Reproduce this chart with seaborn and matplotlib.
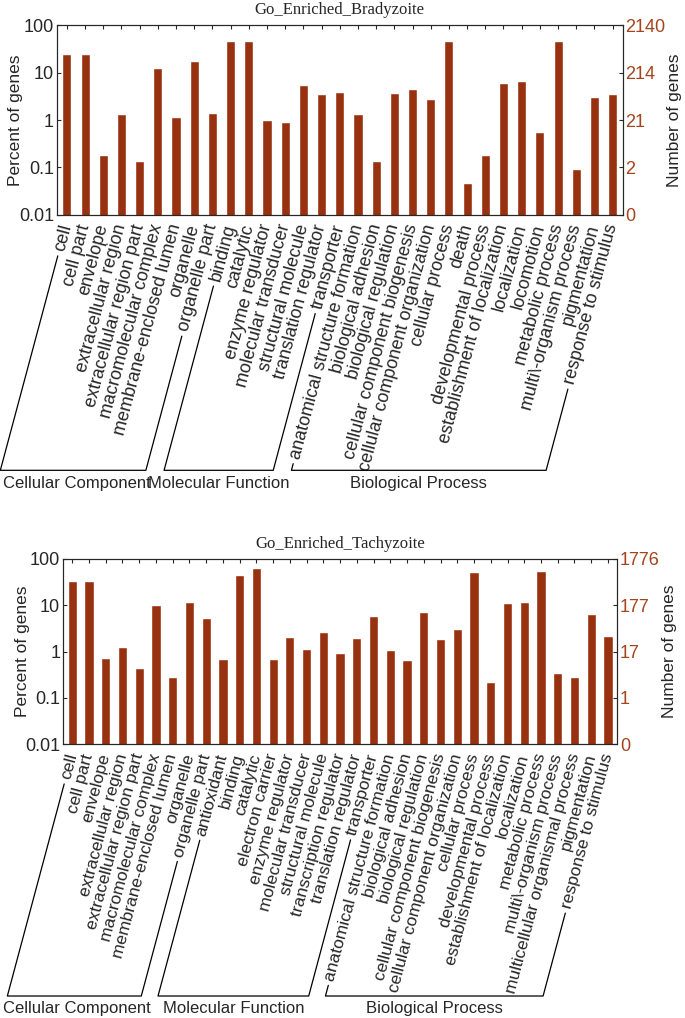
import numpy as np
import pandas as pd
import seaborn as sns
import matplotlib.pyplot as plt
from matplotlib.ticker import NullLocator

# GO terms and percent of genes, Bradyzoite
brady_terms = [
    "cell", "cell part", "envelope", "extracellular region", "extracellular region part",
    "macromolecular complex", "membrane-enclosed lumen", "organelle", "organelle part",
    "binding", "catalytic", "enzyme regulator", "molecular transducer", "structural molecule",
    "translation regulator", "transporter",
    "anatomical structure formation", "biological adhesion", "biological regulation",
    "cellular component biogenesis", "cellular component organization", "cellular process",
    "death", "developmental process", "establishment of localization", "localization",
    "locomotion", "metabolic process", "multi\\-organism process", "pigmentation",
    "response to stimulus",
]
brady_percent = [
    25.5, 25.5, 0.18, 1.34, 0.136, 12.4, 1.16, 17.5, 1.41,
    48, 48, 1.02, 0.92, 5.4, 3.6, 4.0,
    1.38, 0.136, 3.8, 4.6, 2.75, 48, 0.047, 0.186, 6.0, 6.6, 0.56, 46, 0.093, 3.15, 3.55,
]
brady_groups = [9, 7, 15]
brady_gene_ticks = ["2140", "214", "21", "2", "0"]

# GO terms and percent of genes, Tachyzoite
tachy_terms = [
    "cell", "cell part", "envelope", "extracellular region", "extracellular region part",
    "macromolecular complex", "membrane-enclosed lumen", "organelle", "organelle part",
    "antioxidant", "binding", "catalytic", "electron carrier", "enzyme regulator",
    "molecular transducer", "structural molecule", "transcription regulator",
    "translation regulator", "transporter",
    "anatomical structure formation", "biological adhesion", "biological regulation",
    "cellular component biogenesis", "cellular component organization", "cellular process",
    "developmental process", "establishment of localization", "localization",
    "metabolic process", "multi\\-organism process", "multicellular organismal process",
    "pigmentation", "response to stimulus",
]
tachy_percent = [
    34, 34, 0.72, 1.23, 0.44, 10.3, 0.28, 12, 5.4,
    0.68, 45, 63, 0.68, 2.1, 1.16, 2.6, 0.92, 2.0, 5.8,
    1.07, 0.66, 7.3, 1.9, 3.1, 51, 0.22, 11, 11.5, 54, 0.34, 0.28, 6.4, 2.2,
]
tachy_groups = [9, 10, 14]
tachy_gene_ticks = ["1776", "177", "17", "1", "0"]

group_names = ["Cellular Component", "Molecular Function", "Biological Process"]
pct_ticks = [100, 10, 1, 0.1, 0.01]
pct_labels = ["100", "10", "1", "0.1", "0.01"]

BAR = "#983110"
RIGHT = "#a3441c"
ROT = 75

sns.set_style("ticks")
plt.rcParams['font.family'] = ['Liberation Sans', 'DejaVu Sans']


def draw_panel(fig, rect, terms, pct, gene_labels, title, width, lab_x, rlab_x, tick_fs):
    ax = fig.add_axes(rect)
    df = pd.DataFrame({"term": terms, "pct": pct})
    sns.barplot(data=df, x="term", y="pct", color=BAR, saturation=1,
                width=width, ax=ax)
    ax.set_yscale("log")
    ax.set_ylim(0.01, 100)
    ax.set_xlim(-0.55, len(terms) - 0.45)
    ax.set_yticks(pct_ticks, pct_labels, fontsize=13)
    ax.yaxis.set_minor_locator(NullLocator())
    ax.set_xticks(range(len(terms)))
    ax.set_xticklabels(terms, rotation=ROT, ha="right", va="center",
                       rotation_mode="anchor", fontsize=tick_fs)
    ax.tick_params(axis="x", direction="in", length=3, pad=7, top=True)
    ax.tick_params(axis="y", direction="in", length=3, pad=2)
    ax.set_xlabel("")
    ax.set_ylabel("Percent of genes", fontsize=12.5)
    ax.yaxis.set_label_coords(lab_x, 0.5)
    ax.set_title(title, fontfamily="Liberation Serif", fontsize=12, pad=8)

    ax2 = ax.twinx()
    ax2.set_yscale("log")
    ax2.set_ylim(0.01, 100)
    ax2.set_yticks(pct_ticks, gene_labels, fontsize=13, color=RIGHT)
    ax2.yaxis.set_minor_locator(NullLocator())
    ax2.tick_params(axis="y", direction="in", length=3, pad=2)
    ax2.set_ylabel("Number of genes", fontsize=12.5)
    ax2.yaxis.set_label_coords(rlab_x, 0.5)
    return ax


def draw_brackets(fig, ax, groups, base_y, text_y, h):
    fig.canvas.draw()
    r = fig.canvas.get_renderer()
    labels = ax.get_xticklabels()
    a = np.deg2rad(ROT)
    d = np.array([np.cos(a), np.sin(a)])
    H = fig.bbox.height
    W = fig.bbox.width
    yb = base_y * H
    gap = 5.0
    start = 0
    for n, name in zip(groups, group_names):
        pts = []
        for idx in (start, start + n - 1):
            bb = labels[idx].get_window_extent(r)
            s = np.array([bb.x0 + 0.5 * h * np.sin(a), bb.y0 + 0.5 * h * np.cos(a)])
            top = s - gap * d
            t = (top[1] - yb) / d[1]
            bot = top - t * d
            pts.append((top, bot))
        xs = [pts[0][0][0], pts[0][1][0], pts[1][1][0], pts[1][0][0]]
        ys = [pts[0][0][1], pts[0][1][1], pts[1][1][1], pts[1][0][1]]
        fig.add_artist(plt.Line2D(np.array(xs) / W, np.array(ys) / H,
                                  transform=fig.transFigure, color="black", lw=0.9))
        cx = (pts[0][1][0] + pts[1][1][0]) / 2 / W
        cx = max(cx, 0.112)
        fig.text(cx, text_y, name, ha="center", va="center", fontsize=12)
        start += n


fig = plt.figure(figsize=(6.85, 10.18), dpi=100)

ax_top = draw_panel(fig, [0.083, 0.789, 0.826, 0.186], brady_terms, brady_percent,
                    brady_gene_ticks, "Go_Enriched_Bradyzoite", 0.5, -0.06, 1.078, 13)
ax_bot = draw_panel(fig, [0.092, 0.269, 0.809, 0.182], tachy_terms, tachy_percent,
                    tachy_gene_ticks, "Go_Enriched_Tachyzoite", 0.55, -0.06, 1.08, 12.5)

draw_brackets(fig, ax_top, brady_groups, 0.538, 0.5255, 15.5)
draw_brackets(fig, ax_bot, tachy_groups, 0.0216, 0.0098, 15.0)

fig.savefig("out.png", dpi=100)
plt.close(fig)
